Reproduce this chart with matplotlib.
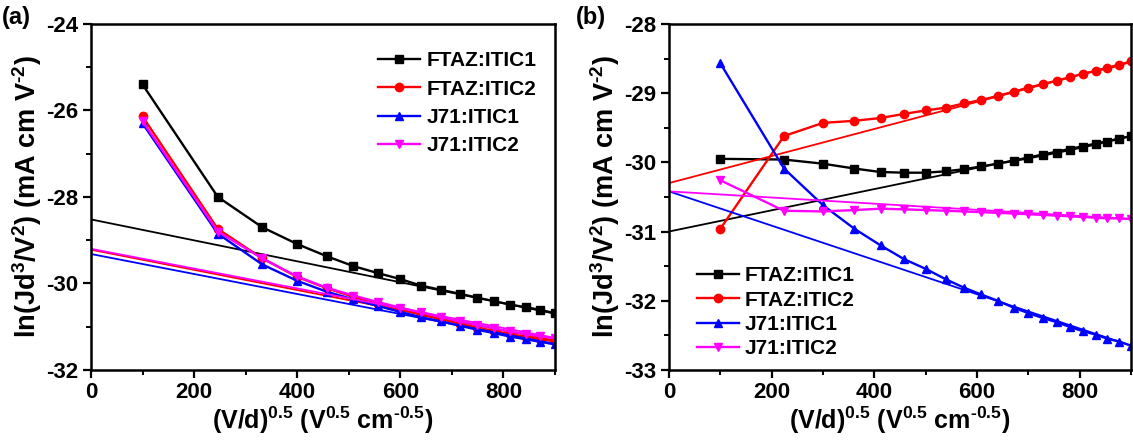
import numpy as np
import matplotlib
matplotlib.use("Agg")
import matplotlib.pyplot as plt
from matplotlib.ticker import MultipleLocator

plt.rcParams['font.family'] = ['Liberation Sans', 'DejaVu Sans']
plt.rcParams['font.weight'] = 'bold'
plt.rcParams['axes.labelweight'] = 'bold'
plt.rcParams['axes.unicode_minus'] = False
plt.rcParams['mathtext.fontset'] = 'custom'
plt.rcParams['mathtext.rm'] = 'Liberation Sans:bold'
plt.rcParams['mathtext.bf'] = 'Liberation Sans:bold'
plt.rcParams['mathtext.default'] = 'bf'

labels = ['FTAZ:ITIC1', 'FTAZ:ITIC2', 'J71:ITIC1', 'J71:ITIC2']
colors = ['black', 'red', 'blue', 'magenta']
markers = ['s', 'o', '^', 'v']

# panel (a)
xa = [100, 246, 332, 400, 457, 509, 556, 600, 640, 679, 716, 749, 782, 813, 843, 871, 900]
ya_ftaz1 = [-25.40, -28.00, -28.70, -29.09, -29.37, -29.60, -29.76, -29.90, -30.05, -30.15,
            -30.24, -30.33, -30.41, -30.49, -30.55, -30.61, -30.69]
ya_ftaz2 = [-26.14, -28.74, -29.42, -29.85, -30.11, -30.31, -30.47, -30.60, -30.72, -30.83,
            -30.93, -31.02, -31.10, -31.17, -31.24, -31.29, -31.34]
ya_j71_1 = [-26.30, -28.85, -29.56, -29.94, -30.19, -30.37, -30.52, -30.66, -30.78, -30.88,
            -30.98, -31.07, -31.15, -31.23, -31.29, -31.35, -31.41]
ya_j71_2 = [-26.25, -28.80, -29.42, -29.84, -30.10, -30.28, -30.43, -30.56, -30.67, -30.78,
            -30.88, -30.96, -31.04, -31.11, -31.17, -31.22, -31.27]
fit_x = [0, 900]
fa_ftaz1 = [-28.52, -30.70]
fa_ftaz2 = [-29.22, -31.32]
fa_j71_1 = [-29.32, -31.40]
fa_j71_2 = [-29.20, -31.26]

# panel (b)
xb = [100, 224, 300, 361, 412, 458, 500, 539, 574, 608, 640, 671, 700, 728, 755, 781, 806,
      831, 854, 877, 900]
yb_ftaz1 = [-29.95, -29.96, -30.02, -30.09, -30.14, -30.15, -30.15, -30.13, -30.10, -30.06,
            -30.02, -29.98, -29.94, -29.90, -29.86, -29.82, -29.78, -29.74, -29.70, -29.66, -29.62]
yb_ftaz2 = [-30.96, -29.62, -29.43, -29.40, -29.36, -29.30, -29.25, -29.21, -29.15, -29.10,
            -29.04, -28.98, -28.92, -28.87, -28.82, -28.77, -28.72, -28.68, -28.64, -28.60, -28.54]
yb_j71_1 = [-28.57, -30.09, -30.62, -30.96, -31.20, -31.40, -31.54, -31.69, -31.81, -31.91,
            -32.00, -32.10, -32.18, -32.25, -32.31, -32.38, -32.44, -32.49, -32.55, -32.59, -32.65]
yb_j71_2 = [-30.26, -30.70, -30.71, -30.69, -30.67, -30.68, -30.69, -30.70, -30.71, -30.72,
            -30.73, -30.74, -30.75, -30.76, -30.77, -30.78, -30.79, -30.80, -30.81, -30.81, -30.82]
fb_ftaz1 = [-31.00, -29.62]
fb_ftaz2 = [-30.30, -28.54]
fb_j71_1 = [-30.42, -32.65]
fb_j71_2 = [-30.42, -30.82]


def panel(ax, x, ys, fits, ylim, ymaj, ymin):
    for y, f, c, m, lab in zip(ys, fits, colors, markers, labels):
        ax.plot(fit_x, f, '-', color=c, lw=1.3)
        ax.plot(x, y, '-', color=c, marker=m, ms=6, lw=1.7, label=lab)
    ax.set_xlim(0, 900)
    ax.set_ylim(*ylim)
    ax.xaxis.set_major_locator(MultipleLocator(200))
    ax.xaxis.set_minor_locator(MultipleLocator(100))
    ax.yaxis.set_major_locator(MultipleLocator(ymaj))
    ax.yaxis.set_minor_locator(MultipleLocator(ymin))
    ax.tick_params(which='major', direction='out', length=6, width=1.6, labelsize=16, pad=3)
    ax.tick_params(which='minor', direction='out', length=3.5, width=1.4)
    for t in ax.get_xticklabels() + ax.get_yticklabels():
        t.set_fontweight('bold')
    for s in ax.spines.values():
        s.set_linewidth(1.8)
    ax.set_xlabel(r'(V/d)$^{0.5}$ (V$^{0.5}$ cm$^{\text{-}0.5}$)', fontsize=18, labelpad=1)
    ax.set_ylabel(r'ln(Jd$^3$/V$^2$) (mA cm V$^{\text{-}2}$)', fontsize=19.5, labelpad=2)


fig = plt.figure(figsize=(11.33, 4.43), dpi=100)
ax1 = fig.add_axes([0.0803, 0.165, 0.4095, 0.781])
ax2 = fig.add_axes([0.5905, 0.165, 0.4078, 0.781])

panel(ax1, xa, [ya_ftaz1, ya_ftaz2, ya_j71_1, ya_j71_2],
      [fa_ftaz1, fa_ftaz2, fa_j71_1, fa_j71_2], (-32, -24), 2, 1)
panel(ax2, xb, [yb_ftaz1, yb_ftaz2, yb_j71_1, yb_j71_2],
      [fb_ftaz1, fb_ftaz2, fb_j71_1, fb_j71_2], (-33, -28), 1, 0.5)

ax1.legend(loc='upper right', bbox_to_anchor=(1.0, 0.975), frameon=False,
           prop={'size': 15, 'weight': 'bold'},
           handlelength=2.0, handletextpad=0.3, labelspacing=0.45, numpoints=1)
ax2.legend(loc='lower left', bbox_to_anchor=(0.02, -0.02), frameon=False,
           prop={'size': 15, 'weight': 'bold'},
           handlelength=2.0, handletextpad=0.3, labelspacing=0.25, numpoints=1)

fig.text(0.002, 0.945, '(a)', fontsize=17, fontweight='bold')
fig.text(0.508, 0.945, '(b)', fontsize=17, fontweight='bold')

fig.savefig('out.png', dpi=100)
